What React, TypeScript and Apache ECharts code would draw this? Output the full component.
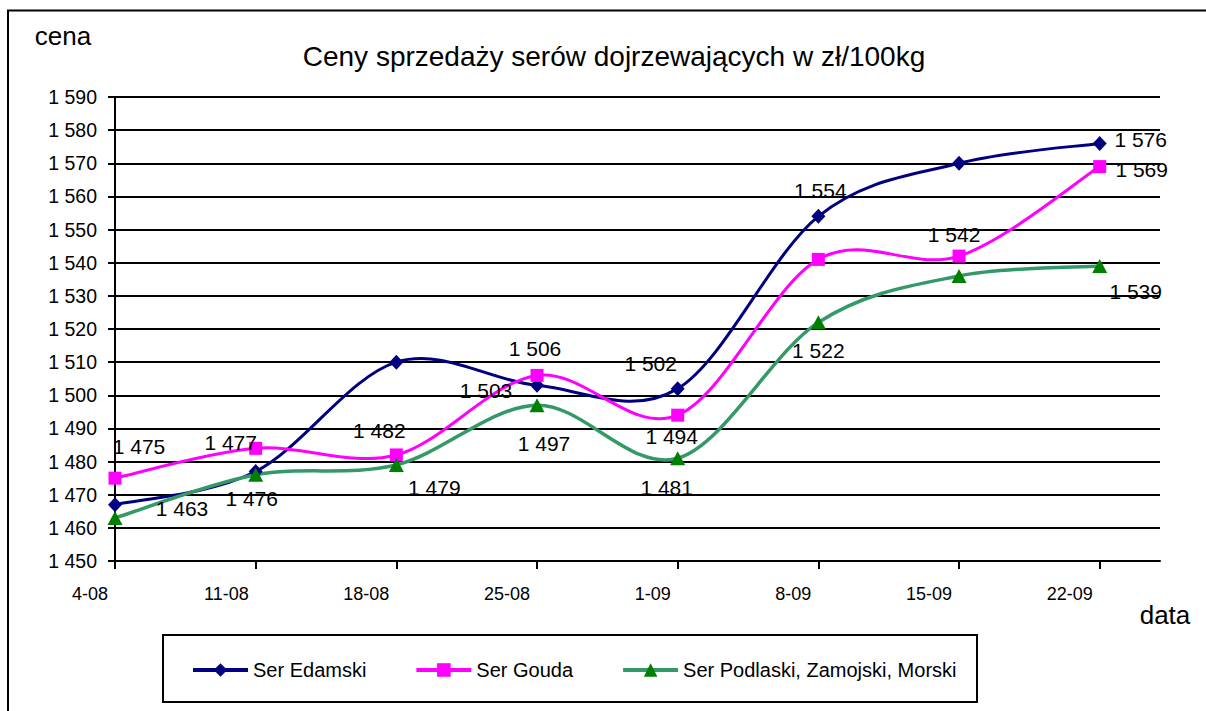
import React, { useEffect, useRef } from "react";
import * as echarts from "echarts";

// ---- data ----
const days = [0, 7, 14, 21, 28, 35, 42, 49];
const dateLabels = ["4-08", "11-08", "18-08", "25-08", "1-09", "8-09", "15-09", "22-09"];
const seriesNames = ["Ser Edamski", "Ser Gouda", "Ser Podlaski, Zamojski, Morski"];
const edamski = [1467, 1477, 1510, 1503, 1502, 1554, 1570, 1576];
const gouda = [1475, 1484, 1482, 1506, 1494, 1541, 1542, 1569];
const podlaski = [1463, 1476, 1479, 1497, 1481, 1522, 1536, 1539];

const TITLE = "Ceny sprzedaży serów dojrzewających w zł/100kg";
const FONT = "'Liberation Sans', Arial, sans-serif";

// label placement (layout only): index -> [dx, dy]
const edamskiLabels: Record<number, [number, number]> = {
  1: [-25, -29], 3: [-51, 5], 4: [-27, -25], 5: [2, -26], 7: [41, -4],
};
const goudaLabels: Record<number, [number, number]> = {
  0: [24, -32], 2: [-17, -24], 3: [-2, -27], 4: [-6, 21], 6: [-5, -22], 7: [42, 3],
};
const podlaskiLabels: Record<number, [number, number]> = {
  0: [67, -9], 1: [-4, 24], 2: [38, 23], 3: [7, 38], 4: [-11, 29], 5: [0, 28], 7: [36, 25],
};

const fmt = (v: number) => {
  const s = String(Math.round(v));
  return s.length > 3 ? s.slice(0, s.length - 3) + " " + s.slice(-3) : s;
};

function buildData(vals: number[], labels: Record<number, [number, number]>) {
  return vals.map((v, i) => {
    const item: any = { value: [days[i], v] };
    if (labels[i]) {
      item.label = {
        show: true,
        position: "inside",
        offset: labels[i],
        formatter: (p: any) => fmt(p.value[1]),
        fontSize: 21,
        color: "#000",
        fontFamily: FONT,
      };
    }
    return item;
  });
}

function markerSeries(name: string, vals: number[], labels: Record<number, [number, number]>, symbol: string, size: any, lineColor: string, markColor: string) {
  return {
    name,
    type: "line",
    z: 3,
    symbol,
    symbolSize: size,
    showSymbol: true,
    lineStyle: { color: lineColor, width: 3, opacity: 0 },
    itemStyle: { color: markColor },
    data: buildData(vals, labels),
  };
}

// Excel-like smoothed curve (Catmull-Rom through the data points, positioned via the axes)
function curveSeries(name: string, vals: number[], color: string, width: number) {
  const n = vals.length;
  return {
    name,
    type: "custom",
    coordinateSystem: "cartesian2d",
    z: 2,
    silent: true,
    encode: { x: 0, y: 1 },
    data: vals.map((v, i) => [days[i], v]),
    renderItem: (params: any, api: any) => {
      const i = params.dataIndex;
      if (i >= n - 1) return null;
      const pt = (j: number) => {
        const k = Math.max(0, Math.min(n - 1, j));
        return api.coord([days[k], vals[k]]);
      };
      const p0 = pt(i - 1), p1 = pt(i), p2 = pt(i + 1), p3 = pt(i + 2);
      return {
        type: "bezierCurve",
        shape: {
          x1: p1[0], y1: p1[1],
          cpx1: p1[0] + (p2[0] - p0[0]) / 6, cpy1: p1[1] + (p2[1] - p0[1]) / 6,
          cpx2: p2[0] - (p3[0] - p1[0]) / 6, cpy2: p2[1] - (p3[1] - p1[1]) / 6,
          x2: p2[0], y2: p2[1],
        },
        style: { stroke: color, lineWidth: width, fill: "none", lineCap: "round" },
      };
    },
  };
}

export default function App() {
  const ref = useRef<HTMLDivElement>(null);
  useEffect(() => {
    if (!ref.current) return;
    const chart = echarts.init(ref.current, null, { renderer: "svg" });
    const option: any = {
      animation: false,
      backgroundColor: "#ffffff",
      textStyle: { fontFamily: FONT, color: "#000" },
      title: {
        text: TITLE,
        left: 609,
        top: 37,
        textAlign: "center",
        textStyle: { fontSize: 28, fontWeight: "normal", color: "#000", fontFamily: FONT },
      },
      grid: { left: 115, top: 97, width: 1045, height: 464, containLabel: false },
      xAxis: {
        type: "value",
        min: 0,
        max: 52,
        interval: 7,
        axisLine: { show: true, onZero: false, lineStyle: { color: "#000", width: 2 } },
        axisTick: { show: true, customValues: days, length: 8, lineStyle: { color: "#000", width: 2 } },
        axisLabel: {
          customValues: days,
          formatter: (v: number) => {
            const i = days.indexOf(v);
            return i >= 0 ? dateLabels[i] : "";
          },
          align: "right",
          padding: [0, 7, 0, 0],
          margin: 24,
          fontSize: 18,
          color: "#000",
          fontFamily: FONT,
        },
        splitLine: { show: false },
      },
      yAxis: {
        type: "value",
        min: 1450,
        max: 1590,
        interval: 10,
        axisLine: { show: true, lineStyle: { color: "#000", width: 2 } },
        axisTick: { show: true, length: 7, lineStyle: { color: "#000", width: 2 } },
        axisLabel: { formatter: fmt, margin: 18, fontSize: 19.5, color: "#000", fontFamily: FONT },
        splitLine: { show: true, lineStyle: { color: "#000", width: 2 } },
      },
      legend: {
        left: 191,
        top: 660,
        padding: 0,
        itemWidth: 55,
        itemHeight: 17,
        itemGap: 48,
        lineStyle: { opacity: 1, width: 4 },
        textStyle: { fontSize: 20, color: "#000", fontFamily: FONT },
        data: seriesNames,
      },
      graphic: [
        { type: "rect", shape: { x: 8, y: 10.5, width: 1300, height: 800 }, style: { fill: "none", stroke: "#000", lineWidth: 2 }, z: 100, silent: true },
        { type: "rect", shape: { x: 163, y: 635, width: 814, height: 67 }, style: { fill: "none", stroke: "#000", lineWidth: 2 }, z: 100, silent: true },
        { type: "text", x: 63, y: 36, style: { text: "cena", fontSize: 26, fontFamily: FONT, fill: "#000", textAlign: "center", textVerticalAlign: "middle" } },
        { type: "text", x: 1165, y: 615, style: { text: "data", fontSize: 26, fontFamily: FONT, fill: "#000", textAlign: "center", textVerticalAlign: "middle" } },
      ],
      series: [
        markerSeries(seriesNames[0], edamski, edamskiLabels, "diamond", [14, 15], "#000080", "#000080"),
        markerSeries(seriesNames[1], gouda, goudaLabels, "rect", 13, "#FF00FF", "#FF00FF"),
        markerSeries(seriesNames[2], podlaski, podlaskiLabels, "triangle", [15, 14], "#339966", "#008000"),
        curveSeries(seriesNames[0], edamski, "#000080", 3),
        curveSeries(seriesNames[1], gouda, "#FF00FF", 3),
        curveSeries(seriesNames[2], podlaski, "#339966", 3.5),
      ],
    };
    chart.setOption(option);
    return () => chart.dispose();
  }, []);
  return (
    <div
      ref={ref}
      style={{ position: "absolute", left: 0, top: 0, width: 1206, height: 711, background: "#fff" }}
    />
  );
}
